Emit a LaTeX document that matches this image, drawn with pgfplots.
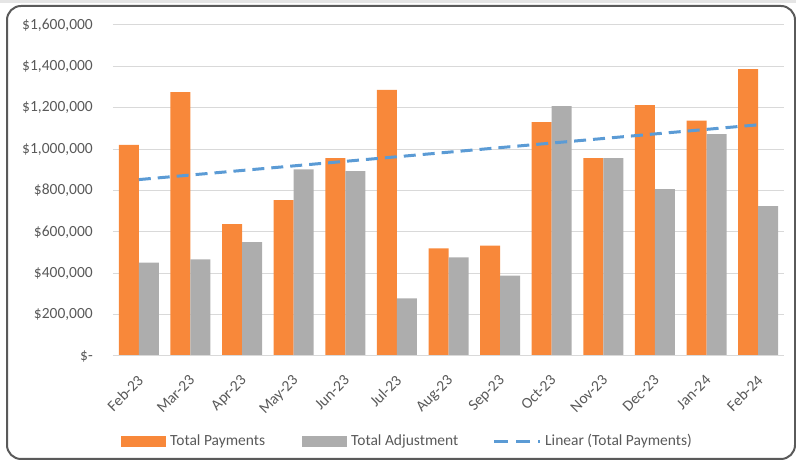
\documentclass[border=0pt]{standalone}
\usepackage{fontspec}
\setmainfont{Carlito}
\usepackage{pgfplots}
\pgfplotsset{compat=1.18}
\definecolor{orangeb}{HTML}{F8883A}
\definecolor{grayb}{HTML}{ADADAD}
\definecolor{trend}{HTML}{5B9BD5}
\definecolor{txt}{HTML}{595959}
\definecolor{gridc}{HTML}{D9D9D9}
\definecolor{frame}{HTML}{5A5A5A}
\begin{document}
\begin{tikzpicture}[x=1pt,y=1pt]
\useasboundingbox (0,0) rectangle (796,462);
\fill[gray!20] (0,459) rectangle (796,462);
\draw[line width=2pt, color=frame, rounded corners=14pt] (7,3) rectangle (795,456);
\begin{axis}[
  at={(113pt,106pt)}, anchor=south west,
  scale only axis, width=671pt, height=331pt,
  xmin=-0.5, xmax=12.5, ymin=0, ymax=1600000,
  scaled y ticks=false,
  axis line style={draw=none},
  major tick length=0pt,
  ymajorgrids, grid style={gridc, line width=1pt},
  ytick={0,200000,400000,600000,800000,1000000,1200000,1400000,1600000},
  yticklabels={\$-\hspace{7pt},{\$200,000},{\$400,000},{\$600,000},{\$800,000},{\$1,000,000},{\$1,200,000},{\$1,400,000},{\$1,600,000}},
  xtick={0,...,12},
  xticklabels={Feb-23,Mar-23,Apr-23,May-23,Jun-23,Jul-23,Aug-23,Sep-23,Oct-23,Nov-23,Dec-23,Jan-24,Feb-24},
  yticklabel style={text=txt, font=\fontsize{15.5}{18}\selectfont, anchor=east, inner sep=0pt, xshift=-20pt},
  xticklabel style={text=txt, font=\fontsize{15.5}{18}\selectfont, rotate=45, anchor=north east, inner sep=0pt, xshift=-14pt, yshift=-11pt},
  clip=false,
]
\addplot[ybar, bar width=20pt, bar shift=-10pt, fill=orangeb, draw=none] coordinates {
 (0,1020000) (1,1275000) (2,638000) (3,754000) (4,957000) (5,1286000) (6,520000)
 (7,533000) (8,1130000) (9,956000) (10,1213000) (11,1138000) (12,1387000)};
\addplot[ybar, bar width=20pt, bar shift=10pt, fill=grayb, draw=none] coordinates {
 (0,451000) (1,467000) (2,550000) (3,902000) (4,894000) (5,279000) (6,477000)
 (7,388000) (8,1208000) (9,956000) (10,807000) (11,1073000) (12,724000)};
\addplot[sharp plot, trend, line width=3pt, dash pattern=on 12pt off 7pt] coordinates {
 (0,852700) (12,1117600)};
\draw[gridc, line width=1pt] (axis cs:-0.5,0) -- (axis cs:12.5,0);
\end{axis}
\fill[orangeb] (121,15) rectangle (166,26);
\node[anchor=west, inner sep=0pt, text=txt, font=\fontsize{15.5}{18}\selectfont] at (170,21) {Total Payments};
\fill[grayb] (302,15) rectangle (347,26);
\node[anchor=west, inner sep=0pt, text=txt, font=\fontsize{15.5}{18}\selectfont] at (351,21) {Total Adjustment};
\draw[trend, line width=3pt, dash pattern=on 14pt off 8pt] (494,20.5) -- (540,20.5);
\node[anchor=west, inner sep=0pt, text=txt, font=\fontsize{15.5}{18}\selectfont] at (545,21) {Linear (Total Payments)};
\end{tikzpicture}
\end{document}
